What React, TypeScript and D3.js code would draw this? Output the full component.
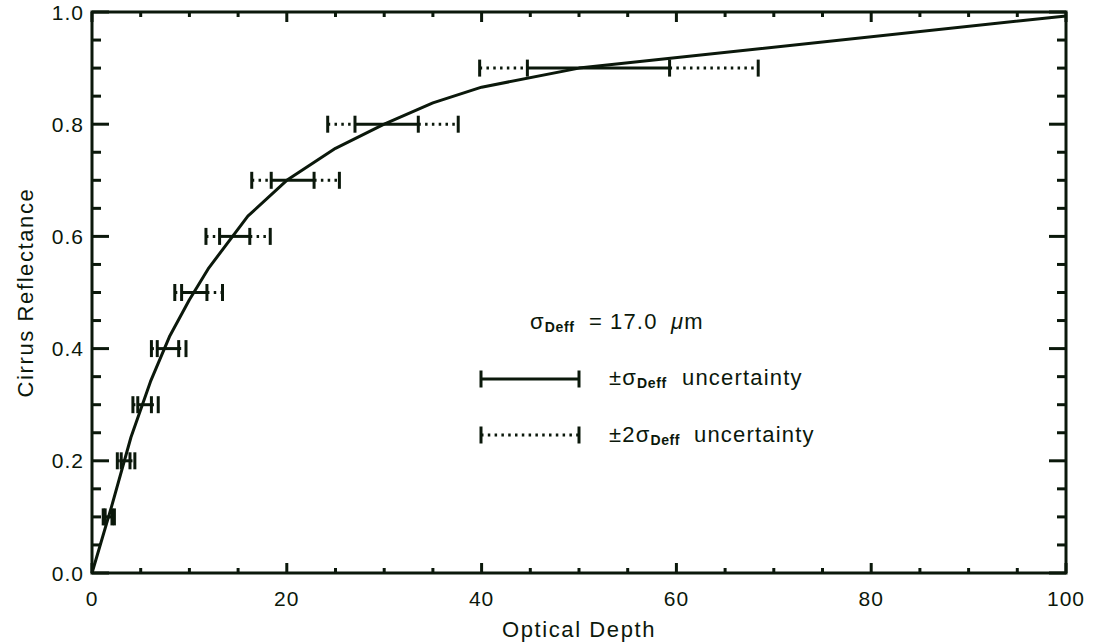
import React from "react";
import * as d3 from "d3";

// Reflectance curve vs optical depth
const curveTau = [0, 2, 4, 6, 8, 10, 12, 16, 20, 25, 30, 35, 40, 50, 100];
const curveRefl = [0, 0.118, 0.242, 0.341, 0.423, 0.487, 0.544, 0.636, 0.7, 0.757, 0.8, 0.838, 0.866, 0.9, 0.993];

// Optical depth uncertainty ranges at each reflectance level
const barLevels = [0.1, 0.2, 0.3, 0.4, 0.5, 0.6, 0.7, 0.8, 0.9];
const lo2 = [1.15, 2.6, 4.2, 6.1, 8.5, 11.7, 16.4, 24.2, 39.8];
const lo1 = [1.35, 3.0, 4.7, 6.7, 9.2, 13.1, 18.4, 27.0, 44.7];
const hi1 = [2.05, 3.9, 6.1, 8.9, 11.8, 16.2, 22.8, 33.5, 59.3];
const hi2 = [2.3, 4.4, 6.8, 9.65, 13.4, 18.3, 25.4, 37.6, 68.4];

const xTicks = [0, 20, 40, 60, 80, 100];
const yTicks = [0, 0.2, 0.4, 0.6, 0.8, 1.0];
const legendSigma = "17.0";

const INK = "#0b180b";
const FONT = "'Liberation Sans', Arial, sans-serif";

export default function App() {
  const W = 1099;
  const H = 644;
  const left = 92, right = 1066, top = 12, bottom = 573;
  const x = d3.scaleLinear().domain([0, 100]).range([left, right]);
  const y = d3.scaleLinear().domain([0, 1]).range([bottom, top]);

  const line = d3
    .line<number>()
    .x((_, i) => x(curveTau[i]))
    .y((d) => y(d));

  const xMinor = d3.range(0, 100.01, 5);
  const yMinor = d3.range(0, 1.0001, 0.05);
  const capH = 8.5;
  const dash = "2.5 4.3";
  const sw = 3;

  const tick = { fontFamily: FONT, fontSize: 21, letterSpacing: 1, fill: INK } as const;
  const title = { fontFamily: FONT, fontSize: 22, letterSpacing: 1.6, fill: INK } as const;
  const leg = { fontFamily: FONT, fontSize: 22, letterSpacing: 1.2, fill: INK } as const;
  const sub = { fontSize: 14, fontWeight: "bold", letterSpacing: 0.6 } as const;

  return (
    <svg
      width={W}
      height={H}
      style={{ position: "absolute", left: 0, top: 0, background: "#fff" }}
    >
      <rect x={0} y={0} width={W} height={H} fill="#fff" />
      {/* ticks */}
      <g stroke={INK} strokeWidth={sw}>
        {xMinor.map((v) => {
          const major = Math.abs(v % 20) < 1e-6;
          const len = major ? 10 : 5;
          return (
            <g key={"xt" + v}>
              <line x1={x(v)} x2={x(v)} y1={bottom} y2={bottom - len} />
              <line x1={x(v)} x2={x(v)} y1={top} y2={top + len} />
            </g>
          );
        })}
        {yMinor.map((v, i) => {
          const major = i % 4 === 0;
          const len = major ? 17 : 9;
          return (
            <g key={"yt" + i}>
              <line x1={left} x2={left + len} y1={y(v)} y2={y(v)} />
              <line x1={right} x2={right - len} y1={y(v)} y2={y(v)} />
            </g>
          );
        })}
      </g>
      <rect
        x={left}
        y={top}
        width={right - left}
        height={bottom - top}
        fill="none"
        stroke={INK}
        strokeWidth={sw}
      />
      {/* tick labels */}
      {xTicks.map((v) => (
        <text key={"xl" + v} x={x(v)} y={606} textAnchor="middle" {...tick}>
          {v}
        </text>
      ))}
      {yTicks.map((v) => (
        <text key={"yl" + v} x={84} y={y(v) + 7.5} textAnchor="end" {...tick}>
          {v.toFixed(1)}
        </text>
      ))}
      {/* axis titles */}
      <text x={(left + right) / 2} y={637} textAnchor="middle" {...title}>
        Optical Depth
      </text>
      <text
        transform={`translate(33, ${(top + bottom) / 2}) rotate(-90)`}
        textAnchor="middle"
        {...title}
      >
        Cirrus Reflectance
      </text>
      {/* curve */}
      <path d={line(curveRefl) || ""} fill="none" stroke={INK} strokeWidth={sw} strokeLinejoin="round" />
      {/* uncertainty bars */}
      <g stroke={INK} strokeWidth={sw}>
        {barLevels.map((lv, i) => {
          const yy = y(lv);
          return (
            <g key={"b" + i}>
              <line x1={x(lo2[i])} x2={x(lo1[i])} y1={yy} y2={yy} strokeDasharray={dash} />
              <line x1={x(hi1[i])} x2={x(hi2[i])} y1={yy} y2={yy} strokeDasharray={dash} />
              <line x1={x(lo1[i])} x2={x(hi1[i])} y1={yy} y2={yy} />
              {[lo2[i], lo1[i], hi1[i], hi2[i]].map((v, k) => (
                <line key={k} x1={x(v)} x2={x(v)} y1={yy - capH} y2={yy + capH} />
              ))}
            </g>
          );
        })}
      </g>
      {/* legend */}
      <text y={329} {...leg}>
        <tspan x={530}>σ</tspan>
        <tspan {...sub} dy={3}>Deff</tspan>
        <tspan x={589} dy={-3}>=</tspan>
        <tspan x={610}>{legendSigma}</tspan>
        <tspan x={671} fontStyle="italic">μ</tspan>
        <tspan>m</tspan>
      </text>
      <g stroke={INK} strokeWidth={sw}>
        <line x1={481} x2={579} y1={379} y2={379} />
        <line x1={481} x2={481} y1={379 - capH} y2={379 + capH} />
        <line x1={579} x2={579} y1={379 - capH} y2={379 + capH} />
        <line x1={481} x2={579} y1={435} y2={435} strokeDasharray={dash} />
        <line x1={481} x2={481} y1={435 - capH} y2={435 + capH} />
        <line x1={579} x2={579} y1={435 - capH} y2={435 + capH} />
      </g>
      <text y={385} {...leg}>
        <tspan x={609}>±σ</tspan>
        <tspan {...sub} dy={3}>Deff</tspan>
        <tspan x={682} dy={-3}>uncertainty</tspan>
      </text>
      <text y={442} {...leg}>
        <tspan x={609}>±2σ</tspan>
        <tspan {...sub} dy={3}>Deff</tspan>
        <tspan x={694} dy={-3}>uncertainty</tspan>
      </text>
    </svg>
  );
}
